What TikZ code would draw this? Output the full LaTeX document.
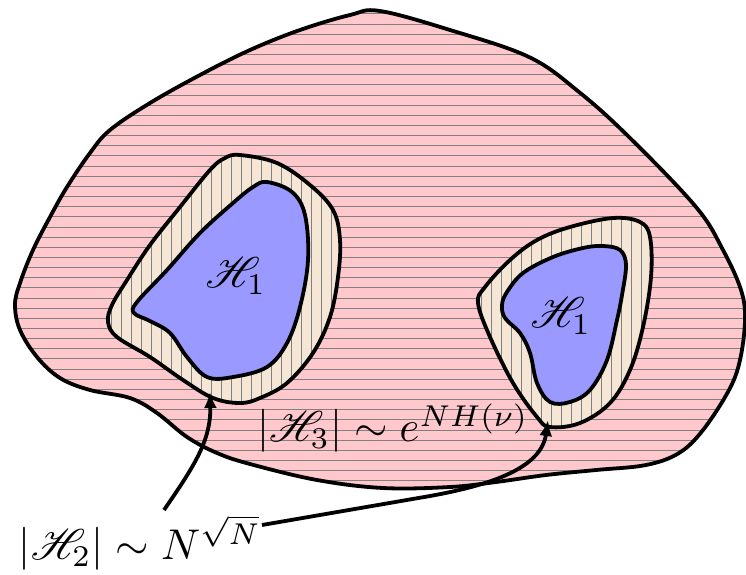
\documentclass[tikz,border=0pt]{standalone}
\usepackage{mathrsfs}
\usetikzlibrary{arrows.meta}
\definecolor{pinkf}{RGB}{255,200,204}
\definecolor{beigef}{RGB}{245,230,214}
\definecolor{bluef}{RGB}{153,153,255}
\definecolor{hatchgray}{RGB}{128,128,128}
\def\outerpath{plot[smooth cycle, tension=0.6] coordinates {(380,11) (450,30) (529,57) (579,92) (629,137) (696,207) (723,250) (741,290) (745,320) (740,360) (729,390) (703,430) (679,453) (646,465) (596,470) (546,475) (496,482) (450,487) (383,488) (317,480) (250,464) (217,453) (187,437) (157,413) (130,398) (90,390) (60,378) (37,357) (20,330) (15,305) (20,283) (33,250) (50,217) (67,187) (90,153) (110,130) (150,103) (200,75) (250,50) (300,30) (350,15)}}
\def\leftbeige{plot[smooth cycle, tension=0.6] coordinates {(240,155) (277,163) (310,185) (333,210) (340,240) (338,277) (330,317) (313,353) (287,383) (260,398) (240,403) (213,398) (183,380) (150,357) (117,337) (108,322) (112,305) (127,280) (150,245) (180,207) (210,170) (225,158)}}
\def\leftblue{plot[smooth cycle, tension=0.6] coordinates {(267,182) (292,192) (305,215) (308,260) (300,307) (287,343) (267,367) (233,377) (207,377) (187,357) (170,333) (150,321) (134,313) (137,302) (167,270) (200,233) (233,203) (253,187)}}
\def\rightbeige{plot[smooth cycle, tension=0.6] coordinates {(613,218) (640,222) (650,237) (651,277) (643,327) (630,370) (610,403) (580,423) (550,427) (537,417) (513,383) (490,337) (478,303) (485,287) (510,260) (537,240) (570,227)}}
\def\rightblue{plot[smooth cycle, tension=0.6] coordinates {(603,246) (620,250) (626,265) (622,295) (617,320) (607,360) (590,390) (570,402) (550,402) (537,383) (530,353) (520,333) (505,318) (502,305) (507,292) (523,273) (553,257) (583,248)}}
\begin{document}
\begin{tikzpicture}[x=1pt,y=-1pt,
  outline/.style={draw=black, line width=3.8pt, line join=round},
  hatch/.style={draw=hatchgray, line width=1pt},
  lbl/.style={scale=4.3, inner sep=0pt},
  arr/.style={draw=black, line width=3.8pt, -{Latex[length=16pt,width=13pt]}}]
\useasboundingbox (0,0) rectangle (746,574);
% outer region
\fill[pinkf] \outerpath;
\begin{scope}
  \clip \outerpath;
  \foreach \k in {0,...,49} \draw[hatch] (0,{3.7+10.15*\k}) -- (746,{3.7+10.15*\k});
\end{scope}
\draw[outline] \outerpath;
% beige regions
\foreach \p in {\leftbeige,\rightbeige}{
  \fill[beigef] \p;
  \begin{scope}
    \clip \p;
    \foreach \k in {0,...,74} \draw[hatch] ({1+10*\k},0) -- ({1+10*\k},574);
  \end{scope}
  \draw[outline] \p;
}
% blue regions
\filldraw[fill=bluef, outline] \leftblue;
\filldraw[fill=bluef, outline] \rightblue;
% labels
\node[lbl] (h1l) at (236,276) {$\mathscr{H}_1$};
\node[lbl] (h1r) at (561,316) {$\mathscr{H}_1$};
\node[lbl] (h3) at (393,428) {$|\mathscr{H}_3|\sim e^{NH(\nu)}$};
\node[lbl] (h2) at (140,543) {$|\mathscr{H}_2|\sim N^{\sqrt{N}}$};
% arrows
\coordinate (a1s) at (164,510);
\coordinate (a1e) at (210,392);
\coordinate (a2s) at (262,525);
\coordinate (a2m) at (430,496);
\coordinate (a2e) at (548,420);
\draw[arr] (a1s) .. controls (195,465) and (211,440) .. (a1e);
\draw[arr] (a2s) -- (a2m) .. controls (485,486) and (541,470) .. (a2e);
\end{tikzpicture}
\end{document}
